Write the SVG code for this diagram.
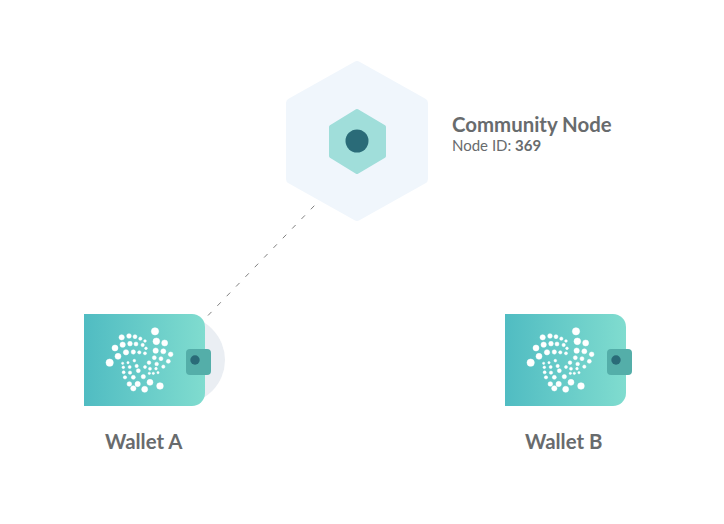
<svg xmlns="http://www.w3.org/2000/svg" xmlns:xlink="http://www.w3.org/1999/xlink" width="724" height="524" viewBox="0 0 724 524">
<style>
text{font-family:"Lato","Open Sans","Liberation Sans",sans-serif;fill:#686b6d}
.t{font-size:20.4px;font-weight:700}
.s{font-size:15px}
.b{font-weight:700}
.d{fill:#fff;stroke:#fff;stroke-width:1.5}
.clasp{fill:#54aea9}
.pin{fill:#2a6b78}
</style>
<defs>
<linearGradient id="wg" x1="0" y1="0" x2="1" y2="0">
<stop offset="0" stop-color="#50bcc2"/>
<stop offset="1" stop-color="#80dccf"/>
</linearGradient>
<g id="wallet">
<path d="M84 314H192a13 13 0 0 1 13 13V393a13 13 0 0 1-13 13H84Z" fill="url(#wg)"/>
<rect class="clasp" x="186" y="349" width="25" height="26" rx="4"/>
<circle class="pin" cx="195" cy="360" r="4.7"/>
<g class="d" transform="translate(100 320) scale(.3333)">
<circle cx="65" cy="52" r="8"/><circle cx="87" cy="48" r="7"/><circle cx="105" cy="50" r="6"/><circle cx="121" cy="56" r="5"/><circle cx="135" cy="63" r="4"/>
<circle cx="45" cy="84" r="9"/><circle cx="68" cy="74" r="8"/><circle cx="90" cy="71" r="7"/><circle cx="108" cy="72" r="6"/><circle cx="128" cy="75" r="5"/><circle cx="138" cy="85" r="4"/>
<circle cx="29" cy="128" r="11"/><circle cx="54" cy="109" r="9"/><circle cx="78" cy="97" r="8"/><circle cx="100" cy="96" r="6.5"/><circle cx="118" cy="97" r="5"/><circle cx="135" cy="100" r="4.5"/>
<circle cx="165" cy="34" r="11"/><circle cx="169" cy="64" r="10"/><circle cx="194" cy="69" r="9"/><circle cx="167" cy="92" r="8"/><circle cx="190" cy="94" r="7.5"/><circle cx="212" cy="103" r="7"/>
<circle cx="163" cy="113" r="6"/><circle cx="183" cy="116" r="6"/><circle cx="205" cy="124" r="6"/><circle cx="147" cy="128" r="5.5"/><circle cx="170" cy="132" r="5.5"/><circle cx="190" cy="140" r="5"/>
<circle cx="135" cy="141" r="4.5"/><circle cx="150" cy="146" r="4.5"/><circle cx="168" cy="146" r="4"/><circle cx="148" cy="160" r="3.5"/><circle cx="160" cy="160" r="3.5"/><circle cx="174" cy="158" r="3.5"/>
<circle cx="68" cy="130" r="3.5"/><circle cx="84" cy="128" r="3.5"/><circle cx="103" cy="122" r="4"/><circle cx="70" cy="142" r="4"/><circle cx="89" cy="141" r="4.5"/><circle cx="110" cy="138" r="5"/>
<circle cx="71" cy="157" r="4.5"/><circle cx="90" cy="158" r="5"/><circle cx="115" cy="152" r="6"/><circle cx="75" cy="172" r="5"/><circle cx="100" cy="172" r="6"/><circle cx="130" cy="170" r="6.5"/>
<circle cx="88" cy="192" r="7"/><circle cx="113" cy="192" r="8"/><circle cx="150" cy="187" r="9"/><circle cx="100" cy="205" r="8"/><circle cx="134" cy="208" r="9"/><circle cx="180" cy="198" r="10"/>
</g>
</g>
</defs>
<rect width="724" height="524" fill="#fff"/>
<g id="connectors">
<path d="M208 315.5L314.3 205.7" fill="none" stroke="#808080" stroke-width="1" stroke-dasharray="5 8.44"/>
</g>
<g id="community-node">
<path d="M357 66L423 103V179L357 216L291 179V103Z" fill="#f0f6fc" stroke="#f0f6fc" stroke-width="10" stroke-linejoin="round"/>
<path d="M357 111L384 127V156L357 172L331 156V127Z" fill="#a0deda" stroke="#a0deda" stroke-width="4" stroke-linejoin="round"/>
<circle class="pin" cx="357" cy="141" r="11.5"/>
<text class="t" x="452" y="131.5">Community Node</text>
<text class="s" x="452" y="150.5">Node ID: <tspan class="b">369</tspan></text>
</g>
<g id="wallet-a">
<circle cx="181" cy="360" r="44" fill="#eaeef3"/>
<use xlink:href="#wallet" href="#wallet"/>
<text class="t" x="105" y="448.5">Wallet A</text>
</g>
<g id="wallet-b">
<use xlink:href="#wallet" href="#wallet" transform="translate(421 0)"/>
<text class="t" x="525" y="448.5">Wallet B</text>
</g>
</svg>
